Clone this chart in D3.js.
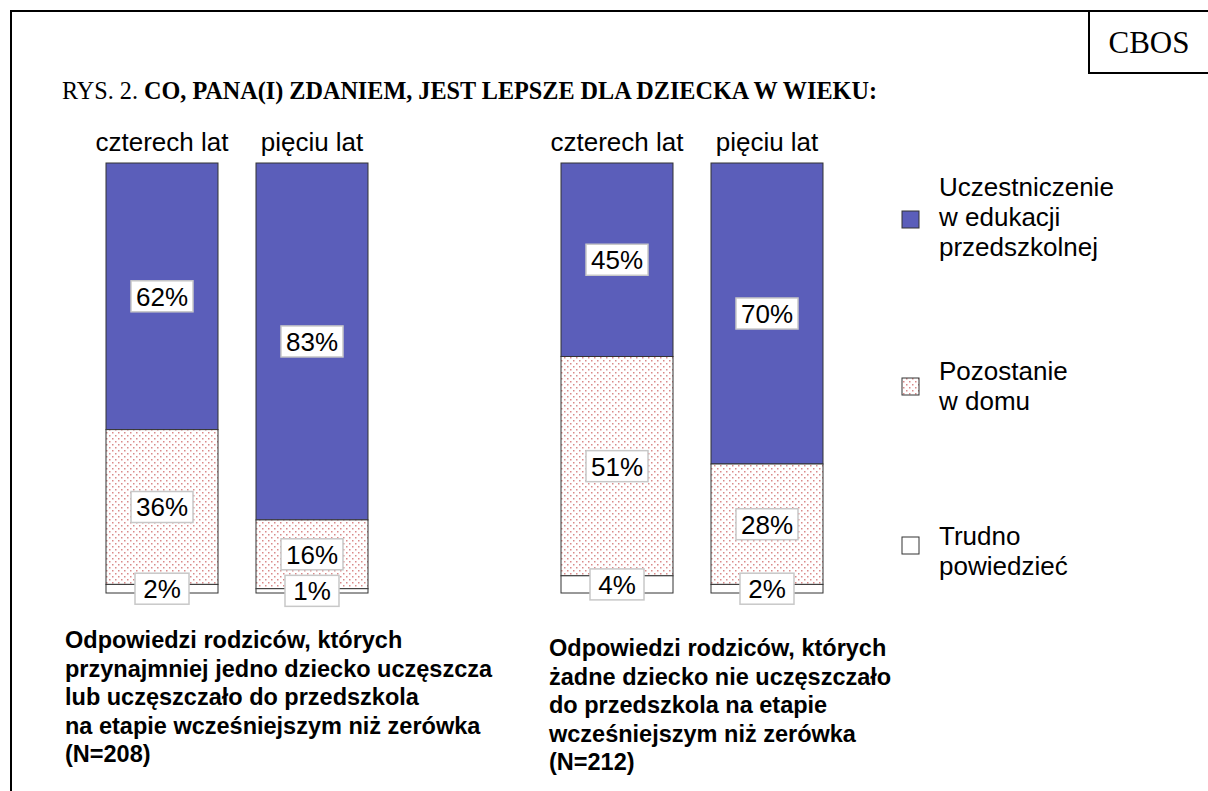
<!DOCTYPE html>
<html>
<head>
<meta charset="utf-8">
<script src="https://cdn.jsdelivr.net/npm/d3@7"></script>
<style>
  body { margin: 0; background: #fff; }
  svg { display: block; }
</style>
</head>
<body>
<svg id="chart"></svg>
<script>
// values (percent)
const groups = ['g1', 'g2'];
const ages = ['czterech lat', 'pięciu lat'];
const edukacja = [62, 83, 45, 70];
const dom = [36, 16, 51, 28];
const trudno = [2, 1, 4, 2];
const legendLines = [
  ['Uczestniczenie', 'w edukacji', 'przedszkolnej'],
  ['Pozostanie', 'w domu'],
  ['Trudno', 'powiedzieć']
];
const notes = [
  ['Odpowiedzi rodziców, których', 'przynajmniej jedno dziecko uczęszcza', 'lub uczęszczało do przedszkola', 'na etapie wcześniejszym niż zerówka', '(N=208)'],
  ['Odpowiedzi rodziców, których', 'żadne dziecko nie uczęszczało', 'do przedszkola na etapie', 'wcześniejszym niż zerówka', '(N=212)']
];

const width = 1208, height = 791;
const svg = d3.select('#chart').attr('width', width).attr('height', height);

const defs = svg.append('defs');
const pat = defs.append('pattern')
  .attr('id', 'dots')
  .attr('patternUnits', 'userSpaceOnUse')
  .attr('width', 6).attr('height', 6);
pat.append('rect').attr('width', 6).attr('height', 6).attr('fill', '#fff');
pat.append('rect').attr('x', 0).attr('y', 0).attr('width', 1.5).attr('height', 1.5).attr('fill', '#d98a8a');
pat.append('rect').attr('x', 3).attr('y', 3).attr('width', 1.5).attr('height', 1.5).attr('fill', '#d98a8a');

const fills = ['#5b5eba', 'url(#dots)', '#fff'];
const sans = 'Liberation Sans, Arial, sans-serif';
const serif = 'Liberation Serif, Times New Roman, serif';

// frame
svg.append('path').attr('d', 'M11,791 V11 H1208').attr('fill', 'none').attr('stroke', '#000').attr('stroke-width', 2);
svg.append('path').attr('d', 'M1089,11 V73 H1208').attr('fill', 'none').attr('stroke', '#000').attr('stroke-width', 2);
svg.append('text').attr('x', 1149).attr('y', 53).attr('text-anchor', 'middle')
  .style('font-family', serif).style('font-size', '31px')
  .text('CBOS');

const title = svg.append('text').attr('x', 62).attr('y', 99)
  .style('font-family', serif).style('font-size', '24.2px');
title.append('tspan').text('RYS. 2. ');
title.append('tspan').style('font-weight', 'bold').text('CO, PANA(I) ZDANIEM, JEST LEPSZE DLA DZIECKA W WIEKU:');

// scales
const x0 = d3.scaleBand().domain(groups).range([106, 1016]);
const x1 = d3.scaleBand().domain(ages).range([0, 262]).paddingInner(0.2533);
const y = d3.scaleLinear().domain([0, 100]).range([593, 163]);

const bars = [];
groups.forEach((g, gi) => {
  ages.forEach((a, ai) => {
    const i = gi * 2 + ai;
    const vals = [edukacja[i], dom[i], trudno[i]];
    let top = 100;
    const segs = vals.map((v, si) => {
      const s = { series: si, value: v, y0: top - v, y1: top };
      top -= v;
      return s;
    });
    bars.push({ group: g, age: a, segs });
  });
});

const barG = svg.selectAll('g.bar').data(bars).join('g')
  .attr('class', 'bar')
  .attr('transform', d => `translate(${x0(d.group) + x1(d.age)},0)`);

barG.append('text')
  .attr('x', x1.bandwidth() / 2).attr('y', 151)
  .attr('text-anchor', 'middle')
  .style('font-family', sans).style('font-size', '26px')
  .text(d => d.age);

barG.selectAll('rect.seg').data(d => d.segs).join('rect')
  .attr('class', 'seg')
  .attr('x', 0)
  .attr('y', d => y(d.y1))
  .attr('width', x1.bandwidth())
  .attr('height', d => y(d.y0) - y(d.y1))
  .attr('fill', d => fills[d.series])
  .attr('stroke', '#333').attr('stroke-width', 1);

const lab = barG.selectAll('g.lab').data(d => d.segs).join('g')
  .attr('class', 'lab')
  .attr('transform', d => `translate(${x1.bandwidth() / 2},${(y(d.y0) + y(d.y1)) / 2})`);
lab.append('rect')
  .attr('x', -31).attr('y', -15.5).attr('width', 62).attr('height', 31)
  .attr('fill', '#fff').attr('stroke', '#c8c8c8').attr('stroke-width', 1.5);
lab.append('text')
  .attr('text-anchor', 'middle').attr('dy', '0.36em')
  .style('font-family', sans).style('font-size', '26px')
  .text(d => d.value + '%');
lab.filter(d => d.value < 10).select('rect').attr('x', -27).attr('width', 54);

// legend
const legTops = [211, 378, 537];
const legText = [196, 380, 545];
const legend = svg.selectAll('g.leg').data(legendLines).join('g').attr('class', 'leg');
legend.append('rect')
  .attr('x', 902).attr('y', (d, i) => legTops[i])
  .attr('width', 17).attr('height', 17)
  .attr('fill', (d, i) => fills[i]).attr('stroke', '#333').attr('stroke-width', 1);
legend.append('text')
  .attr('x', 939).attr('y', (d, i) => legText[i])
  .style('font-family', sans).style('font-size', '26px')
  .selectAll('tspan').data(d => d).join('tspan')
  .attr('x', 939).attr('dy', (d, i) => i === 0 ? 0 : 30)
  .text(d => d);

// notes under the groups
const noteX = [65, 549];
const noteY = [648, 656];
svg.selectAll('text.note').data(notes).join('text')
  .attr('class', 'note')
  .attr('x', (d, i) => noteX[i]).attr('y', (d, i) => noteY[i])
  .style('font-family', sans).style('font-size', '23.5px').style('font-weight', 'bold')
  .selectAll('tspan').data(d => d).join('tspan')
  .attr('x', function () { return d3.select(this.parentNode).attr('x'); })
  .attr('dy', (d, i) => i === 0 ? 0 : 28.5)
  .text(d => d);
</script>
</body>
</html>
